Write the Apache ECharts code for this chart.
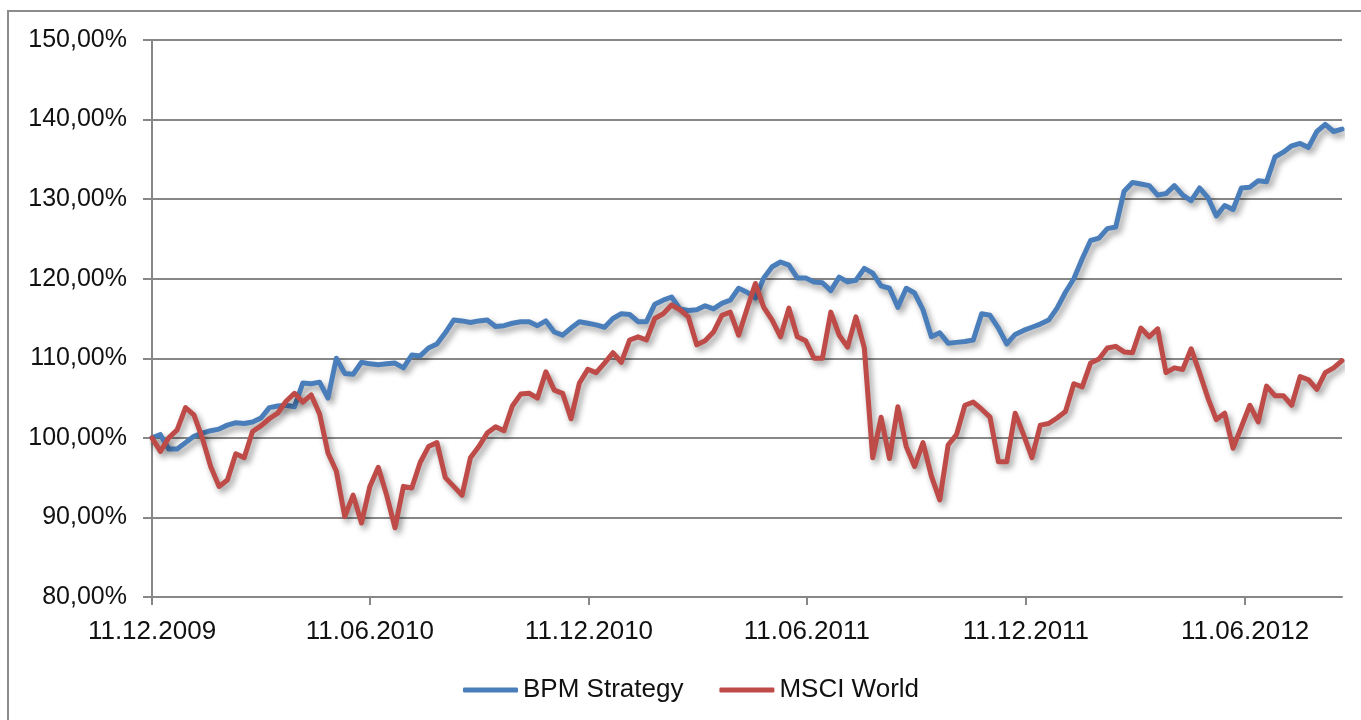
<!DOCTYPE html>
<html>
<head>
<meta charset="utf-8">
<title>BPM Strategy vs MSCI World</title>
<script src="https://cdn.jsdelivr.net/npm/echarts@6/dist/echarts.min.js"></script>
<style>
  html, body { margin: 0; padding: 0; background: #fff; }
  #main { width: 1361px; height: 720px; }
</style>
</head>
<body>
<div id="main"></div>
<script>
// weekly closes, indexed to 100 on 11.12.2009
const startDate = Date.UTC(2009, 11, 11);
const weekMs = 7 * 24 * 3600 * 1000;

const bpmStrategy = [
  100.0, 100.4, 98.6, 98.6, 99.4, 100.2, 100.6, 100.9, 101.1, 101.6,
  101.9, 101.8, 102.0, 102.5, 103.8, 104.0, 104.1, 103.9, 106.9, 106.8,
  107.0, 105.0, 110.0, 108.1, 108.0, 109.5, 109.3, 109.2, 109.3, 109.4,
  108.8, 110.4, 110.3, 111.3, 111.8, 113.2, 114.8, 114.7, 114.5, 114.7,
  114.8, 114.0, 114.1, 114.4, 114.6, 114.6, 114.1, 114.7, 113.3, 112.9,
  113.8, 114.6, 114.4, 114.2, 113.9, 115.0, 115.6, 115.5, 114.6, 114.6,
  116.8, 117.3, 117.7, 116.2, 116.0, 116.1, 116.6, 116.2, 116.9, 117.3,
  118.8, 118.3, 117.6, 120.1, 121.5, 122.1, 121.7, 120.1, 120.1, 119.6,
  119.5, 118.5, 120.2, 119.6, 119.8, 121.3, 120.7, 119.1, 118.8, 116.4,
  118.8, 118.2, 116.1, 112.7, 113.2, 111.9, 112.0, 112.1, 112.3, 115.6,
  115.4, 113.8, 111.8, 113.0, 113.5, 113.9, 114.3, 114.8, 116.3, 118.3,
  120.0, 122.5, 124.8, 125.1, 126.3, 126.5, 131.0, 132.1, 131.9, 131.7,
  130.5, 130.7, 131.7, 130.5, 129.8, 131.4, 130.2, 127.9, 129.2, 128.7,
  131.4, 131.5, 132.3, 132.2, 135.3, 135.9, 136.7, 137.0, 136.5, 138.5,
  139.4, 138.5, 138.8
];

const msciWorld = [
  100.0, 98.3, 100.0, 101.0, 103.8, 102.9, 100.0, 96.4, 93.9, 94.7,
  98.0, 97.5, 100.8, 101.5, 102.4, 103.1, 104.6, 105.6, 104.5, 105.4,
  103.0, 98.1, 95.8, 90.1, 92.8, 89.3, 93.9, 96.3, 92.8, 88.7,
  93.9, 93.7, 96.9, 98.9, 99.4, 95.0, 93.9, 92.8, 97.5, 98.9,
  100.6, 101.4, 100.9, 104.0, 105.5, 105.6, 105.0, 108.3, 106.0, 105.6,
  102.4, 106.9, 108.6, 108.2, 109.4, 110.7, 109.5, 112.3, 112.7, 112.3,
  115.0, 115.6, 116.7, 116.1, 115.2, 111.7, 112.2, 113.3, 115.4, 115.8,
  112.9, 116.2, 119.4, 116.4, 114.8, 112.7, 116.3, 112.7, 112.2, 110.0,
  110.0, 115.8, 112.9, 111.4, 115.2, 111.3, 97.5, 102.6, 97.4, 103.9,
  98.9, 96.4, 99.4, 95.2, 92.2, 99.1, 100.4, 104.1, 104.5, 103.6,
  102.6, 97.0, 97.0, 103.1, 100.4, 97.5, 101.6, 101.8, 102.5, 103.3,
  106.8, 106.4, 109.4, 109.9, 111.3, 111.5, 110.8, 110.7, 113.8, 112.7,
  113.7, 108.2, 108.8, 108.6, 111.2, 108.2, 105.0, 102.3, 103.1, 98.7,
  101.4, 104.1, 102.0, 106.5, 105.3, 105.3, 104.1, 107.7, 107.3, 106.1,
  108.2, 108.8, 109.7
];

// x-axis ticks every six months
const tickDates = [
  Date.UTC(2009, 11, 11),
  Date.UTC(2010, 5, 11),
  Date.UTC(2010, 11, 11),
  Date.UTC(2011, 5, 11),
  Date.UTC(2011, 11, 11),
  Date.UTC(2012, 5, 11)
];

const weeks = bpmStrategy.map((v, i) => startDate + i * weekMs);

function pad(n) {
  return n < 10 ? '0' + n : '' + n;
}
function formatDate(t) {
  const d = new Date(t);
  return pad(d.getUTCDate()) + '.' + pad(d.getUTCMonth() + 1) + '.' + d.getUTCFullYear();
}

const chart = echarts.init(document.getElementById('main'));
const font = 'Liberation Sans, Arial, sans-serif';
const axisGray = '#878787';

const lineStyle = {
  width: 5,
  cap: 'round',
  join: 'round',
  shadowColor: 'rgba(0,0,0,0.4)',
  shadowBlur: 6,
  shadowOffsetX: 3,
  shadowOffsetY: 4
};

const option = {
  backgroundColor: '#fff',
  animation: false,
  color: ['#4a7ebb', '#be4b48'],
  graphic: [{
    type: 'rect',
    shape: { x: 8, y: 11, width: 1400, height: 800 },
    style: { fill: 'none', stroke: '#8c8c8c', lineWidth: 2 },
    silent: true
  }],
  grid: {
    left: 152,
    right: 19,
    top: 40,
    bottom: 123
  },
  legend: {
    left: 458,
    top: 672,
    icon: 'roundRect',
    itemWidth: 55,
    itemHeight: 5,
    itemGap: 36,
    textStyle: { fontFamily: font, fontSize: 26, color: '#111' },
    data: ['BPM Strategy', 'MSCI World']
  },
  xAxis: {
    // timestamps on a plain value axis, so the six-month ticks can be placed exactly
    type: 'value',
    min: startDate,
    max: weeks[weeks.length - 1],
    axisLine: { lineStyle: { color: axisGray, width: 2 } },
    axisTick: {
      show: true,
      length: 8,
      customValues: tickDates,
      lineStyle: { color: axisGray, width: 2 }
    },
    axisLabel: {
      customValues: tickDates,
      margin: 22,
      fontFamily: font,
      fontSize: 26,
      color: '#111',
      formatter: function (value) {
        return formatDate(value);
      }
    },
    splitLine: { show: false }
  },
  yAxis: {
    type: 'value',
    min: 80,
    max: 150,
    interval: 10,
    axisLine: { show: true, lineStyle: { color: axisGray, width: 2 } },
    axisTick: { show: true, length: 9, lineStyle: { color: axisGray, width: 2 } },
    axisLabel: {
      margin: 25,
      fontFamily: font,
      fontSize: 25,
      color: '#111',
      formatter: function (value) {
        return value.toFixed(2).replace('.', ',') + '%';
      }
    },
    splitLine: { lineStyle: { color: axisGray, width: 2 } }
  },
  series: [
    {
      name: 'BPM Strategy',
      type: 'line',
      symbol: 'none',
      data: weeks.map((t, i) => [t, bpmStrategy[i]]),
      lineStyle: lineStyle
    },
    {
      name: 'MSCI World',
      type: 'line',
      symbol: 'none',
      data: weeks.map((t, i) => [t, msciWorld[i]]),
      lineStyle: lineStyle
    }
  ]
};

chart.setOption(option);
</script>
</body>
</html>
